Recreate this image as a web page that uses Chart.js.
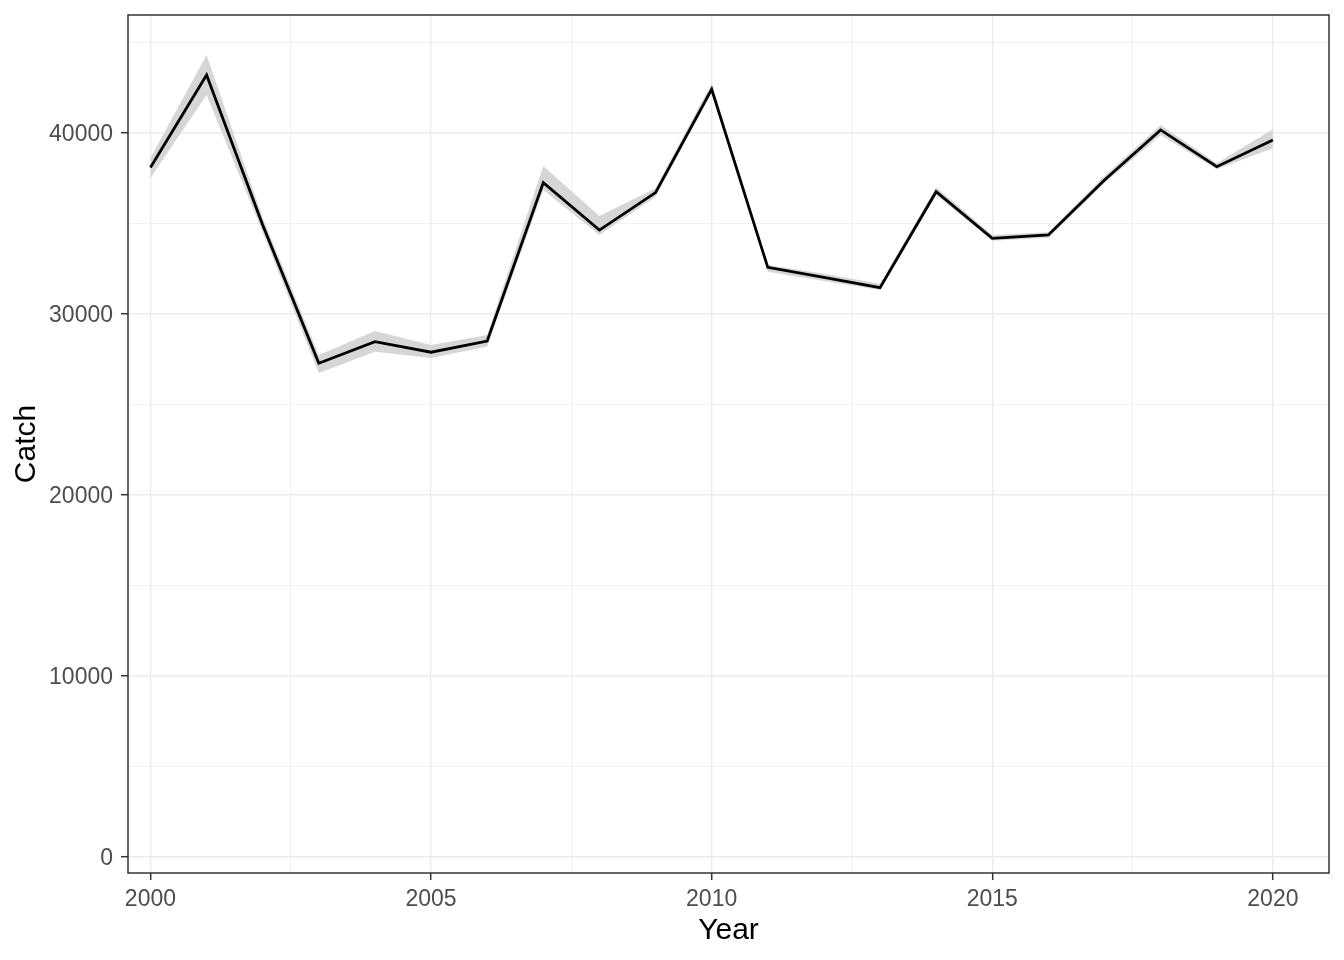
<!DOCTYPE html>
<html>
<head>
<meta charset="utf-8">
<script src="https://cdn.jsdelivr.net/npm/chart.js@4.4.1/dist/chart.umd.min.js"></script>
<style>
  html, body { margin: 0; padding: 0; background: #fff; }
  #wrap { width: 1344px; height: 960px; }
</style>
</head>
<body>
<div id="wrap"><canvas id="catchChart"></canvas></div>
<script>
// catch by year, with the grey band around it
const years = [2000, 2001, 2002, 2003, 2004, 2005, 2006, 2007, 2008, 2009, 2010,
               2011, 2012, 2013, 2014, 2015, 2016, 2017, 2018, 2019, 2020];
const catchValues = [38070, 43190, 34900, 27260, 28450, 27870, 28490, 37240, 34620, 36690, 42400,
                     32560, 32010, 31440, 36740, 34160, 34350, 37390, 40150, 38120, 39600];
const upperValues = [38600, 44290, 35300, 27720, 29040, 28270, 28820, 38160, 35400, 36930, 42730,
                     32690, 32200, 31650, 36980, 34350, 34500, 37600, 40420, 38310, 40190];
const lowerValues = [37500, 42080, 34500, 26720, 27900, 27550, 28180, 36830, 34350, 36460, 42230,
                     32320, 31800, 31310, 36560, 34030, 34200, 37200, 39870, 37980, 39140];

const xTicks = [2000, 2002.5, 2005, 2007.5, 2010, 2012.5, 2015, 2017.5, 2020];
const yTicks = [0, 5000, 10000, 15000, 20000, 25000, 30000, 35000, 40000, 45000];

function toPoints(vals) {
    return years.map((y, i) => ({ x: y, y: vals[i] }));
}

const fontName = "'Liberation Sans', Arial, sans-serif";

const panelBorder = {
    id: 'panelBorder',
    afterDraw(chart) {
        const { ctx, chartArea } = chart;
        ctx.save();
        ctx.strokeStyle = '#333333';
        ctx.lineWidth = 1.5;
        ctx.strokeRect(chartArea.left, chartArea.top,
            chartArea.right - chartArea.left, chartArea.bottom - chartArea.top);
        ctx.restore();
    }
};

const isMajorX = v => v % 5 === 0;
const isMajorY = v => v % 10000 === 0;

new Chart(document.getElementById('catchChart'), {
    type: 'line',
    data: {
        datasets: [
            {
                label: 'Catch',
                data: toPoints(catchValues),
                borderColor: '#000000',
                borderWidth: 2.8,
                pointRadius: 0,
                fill: false,
                order: 0
            },
            {
                label: 'lower',
                data: toPoints(lowerValues),
                borderWidth: 0,
                borderColor: 'rgba(0,0,0,0)',
                pointRadius: 0,
                fill: false,
                order: 1
            },
            {
                label: 'upper',
                data: toPoints(upperValues),
                borderWidth: 0,
                borderColor: 'rgba(0,0,0,0)',
                backgroundColor: '#D6D6D6',
                pointRadius: 0,
                fill: '-1',
                order: 2
            }
        ]
    },
    options: {
        responsive: true,
        maintainAspectRatio: false,
        animation: false,
        layout: { padding: { top: 15, right: 15, left: 0, bottom: 0 } },
        plugins: {
            legend: { display: false },
            tooltip: { enabled: false }
        },
        scales: {
            x: {
                type: 'linear',
                min: 1999.6,
                max: 2021.0,
                afterBuildTicks: scale => { scale.ticks = xTicks.map(v => ({ value: v })); },
                afterFit: scale => {
                    scale.height = 87;
                    scale.paddingLeft = 0;
                    scale.paddingRight = 0;
                },
                border: { display: false },
                grid: {
                    color: '#EBEBEB',
                    lineWidth: ctx => isMajorX(ctx.tick.value) ? 1.4 : 0.7,
                    tickColor: ctx => isMajorX(ctx.tick.value) ? '#333333' : 'rgba(0,0,0,0)',
                    tickLength: 7,
                    tickWidth: 1.5
                },
                ticks: {
                    autoSkip: false,
                    maxRotation: 0,
                    padding: 6,
                    color: '#4D4D4D',
                    font: { family: fontName, size: 23 },
                    callback: v => isMajorX(v) ? String(v) : ''
                },
                title: {
                    display: true,
                    text: 'Year',
                    color: '#000000',
                    font: { family: fontName, size: 30 },
                    padding: { top: 0, bottom: 11 }
                }
            },
            y: {
                type: 'linear',
                min: -900,
                max: 46500,
                afterBuildTicks: scale => { scale.ticks = yTicks.map(v => ({ value: v })); },
                afterFit: scale => {
                    scale.width = 128;
                    scale.paddingTop = 0;
                    scale.paddingBottom = 0;
                },
                border: { display: false },
                grid: {
                    color: '#EBEBEB',
                    lineWidth: ctx => isMajorY(ctx.tick.value) ? 1.4 : 0.7,
                    tickColor: ctx => isMajorY(ctx.tick.value) ? '#333333' : 'rgba(0,0,0,0)',
                    tickLength: 7,
                    tickWidth: 1.5
                },
                ticks: {
                    autoSkip: false,
                    padding: 8,
                    labelOffset: 2,
                    color: '#4D4D4D',
                    font: { family: fontName, size: 23 },
                    callback: v => isMajorY(v) ? String(v) : ''
                },
                title: {
                    display: true,
                    text: 'Catch',
                    color: '#000000',
                    font: { family: fontName, size: 30 },
                    padding: { top: 9, bottom: 0 }
                }
            }
        }
    },
    plugins: [panelBorder]
});
</script>
</body>
</html>
